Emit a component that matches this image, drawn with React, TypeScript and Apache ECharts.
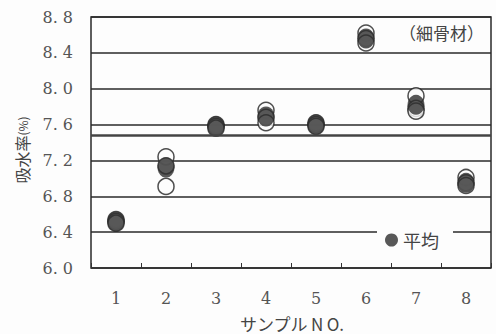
import React, { useEffect, useRef } from "react";
import * as echarts from "echarts";

// Sample numbers along the x axis
const samples = ["1", "2", "3", "4", "5", "6", "7", "8"];

// Individual water absorption measurements (%) per sample, three tests each
const test1 = [6.54, 7.24, 7.60, 7.76, 7.62, 8.62, 7.92, 7.01];
const test2 = [6.52, 7.14, 7.58, 7.68, 7.60, 8.56, 7.78, 6.95];
const test3 = [6.50, 6.91, 7.56, 7.62, 7.58, 8.51, 7.75, 6.92];

// Mean of the three tests per sample
const averages = [6.52, 7.12, 7.58, 7.69, 7.60, 8.56, 7.82, 6.95];

const SERIF = "DejaVu Serif";
const JP = "Noto Sans CJK JP";

export default function App() {
  const ref = useRef<HTMLDivElement>(null);

  useEffect(() => {
    if (!ref.current) return;
    const chart = echarts.init(ref.current, null, { renderer: "svg" });

    const openPoints: [number, number][] = [];
    [test1, test2, test3].forEach((arr) =>
      arr.forEach((v, i) => openPoints.push([i, v]))
    );

    chart.setOption({
      animation: false,
      backgroundColor: "#fdfdfd",
      grid: {
        left: 91,
        right: 5,
        top: 17,
        bottom: 66,
        show: true,
        borderColor: "#2a2a2a",
        borderWidth: 1.5,
      },
      xAxis: {
        type: "category",
        data: samples,
        boundaryGap: true,
        axisLine: { show: false },
        axisTick: {
          show: true,
          inside: true,
          length: 5,
          lineStyle: { color: "#333", width: 1 },
        },
        axisLabel: {
          margin: 22,
          fontFamily: SERIF,
          fontSize: 16,
          color: "#555",
        },
        splitLine: { show: false },
      },
      yAxis: {
        type: "value",
        min: 6.0,
        max: 8.8,
        interval: 0.4,
        axisLine: { show: false },
        axisTick: { show: false },
        axisLabel: {
          margin: 18,
          fontFamily: SERIF,
          fontSize: 16,
          color: "#555",
          formatter: (v: number) => v.toFixed(1).replace(".", ". "),
        },
        splitLine: { show: true, lineStyle: { color: "#2a2a2a", width: 1.5 } },
      },
      legend: {
        data: [{ name: "平均", icon: "circle" }],
        left: 377,
        top: 227,
        itemWidth: 13,
        itemHeight: 13,
        backgroundColor: "#fdfdfd",
        padding: [4, 14, 4, 8],
        textStyle: { fontFamily: JP, fontSize: 18, color: "#444" },
      },
      series: [
        {
          name: "測定値",
          type: "scatter",
          data: openPoints,
          symbol: "circle",
          symbolSize: 16,
          itemStyle: { color: "#fdfdfd", borderColor: "#222", borderWidth: 1.5 },
          z: 2,
        },
        {
          name: "平均",
          type: "scatter",
          data: averages.map((v, i) => [i, v]),
          symbol: "circle",
          symbolSize: [17, 20],
          itemStyle: { color: "#2e2e2e" },
          z: 3,
          markLine: {
            silent: true,
            symbol: "none",
            label: { show: false },
            lineStyle: { color: "#444", width: 2.5, type: "solid" },
            data: [{ type: "average", name: "全平均" }],
          },
        },
      ],
      graphic: [
        {
          type: "text",
          right: 12,
          top: 24,
          style: {
            text: "（細骨材）",
            fontFamily: JP,
            fontSize: 17,
            fill: "#444",
          },
        },
        {
          type: "text",
          x: 22,
          y: 150,
          rotation: Math.PI / 2,
          style: {
            text: "吸水率{s|(%)}",
            fontFamily: JP,
            fontSize: 16,
            fill: "#444",
            align: "center",
            verticalAlign: "middle",
            rich: { s: { fontFamily: JP, fontSize: 12, fill: "#444" } },
          },
        },
        {
          type: "text",
          x: 292,
          y: 323,
          style: {
            text: "サンプル\u2009N\u2009O.",
            fontFamily: JP,
            fontSize: 17,
            fill: "#444",
            align: "center",
            verticalAlign: "middle",
          },
        },
      ],
    });

    return () => chart.dispose();
  }, []);

  return (
    <div
      ref={ref}
      style={{ position: "fixed", left: 0, top: 0, width: 496, height: 334 }}
    />
  );
}
